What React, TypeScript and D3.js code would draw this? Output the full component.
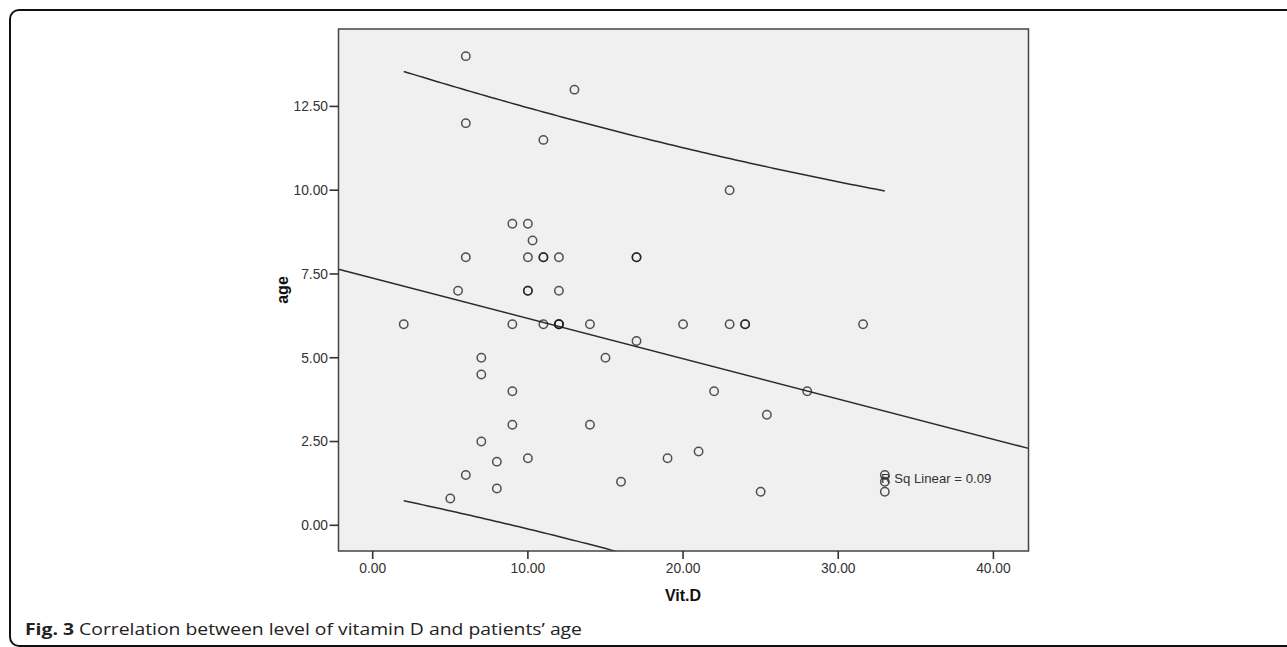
import React from "react";
import * as d3 from "d3";

// Data (Vit.D, age)
const vitD = [
  6, 13, 6, 11, 23, 9, 10, 10.3, 6, 10, 11, 11, 12, 17, 17, 5.5, 10, 10, 12, 2,
  9, 11, 12, 12, 12, 14, 20, 23, 24, 24, 31.6, 15, 7, 17, 7, 9, 22, 28, 25.4, 9,
  14, 7, 21, 19, 10, 8, 6, 16, 8, 25, 5, 33, 33, 33,
];
const age = [
  14, 13, 12, 11.5, 10, 9, 9, 8.5, 8, 8, 8, 8, 8, 8, 8, 7, 7, 7, 7, 6,
  6, 6, 6, 6, 6, 6, 6, 6, 6, 6, 6, 5, 5, 5.5, 4.5, 4, 4, 4, 3.3, 3,
  3, 2.5, 2.2, 2, 2, 1.9, 1.5, 1.3, 1.1, 1, 0.8, 1.5, 1.3, 1,
];
const xTicks = [0, 10, 20, 30, 40];
const yTicks = [0, 2.5, 5, 7.5, 10, 12.5];
const rSqLabel = "R Sq Linear = 0.09";
const captionBold = "Fig. 3";
const captionText = " Correlation between level of vitamin D and patients\u2019 age";

const W = 1287;
const H = 647;
const plot = { left: 338.5, right: 1028.5, top: 29, bottom: 551 };

export default function App() {
  const x = d3.scaleLinear().domain([-2.204, 42.26]).range([plot.left, plot.right]);
  const y = d3.scaleLinear().domain([-0.767, 14.81]).range([plot.bottom, plot.top]);

  // linear regression with 95% individual prediction interval
  const n = vitD.length;
  const mx = d3.mean(vitD) as number;
  const my = d3.mean(age) as number;
  let sxx = 0, sxy = 0;
  for (let i = 0; i < n; i++) {
    sxx += (vitD[i] - mx) ** 2;
    sxy += (vitD[i] - mx) * (age[i] - my);
  }
  const b = sxy / sxx;
  const a = my - b * mx;
  let sse = 0;
  for (let i = 0; i < n; i++) sse += (age[i] - a - b * vitD[i]) ** 2;
  const s = Math.sqrt(sse / (n - 2));
  const t = 2.0066;
  const half = (v: number) => t * s * Math.sqrt(1 + 1 / n + (v - mx) ** 2 / sxx);
  const [xmin, xmax] = d3.extent(vitD) as [number, number];
  const grid = d3.range(0, 101).map((i) => xmin + ((xmax - xmin) * i) / 100);

  const line = d3.line<[number, number]>().x((d) => x(d[0])).y((d) => y(d[1]));
  const fitPath = line([
    [x.domain()[0], a + b * x.domain()[0]],
    [x.domain()[1], a + b * x.domain()[1]],
  ]);
  const upperPath = line(grid.map((v) => [v, a + b * v + half(v)] as [number, number]));
  const lowerPath = line(grid.map((v) => [v, a + b * v - half(v)] as [number, number]));

  const axisFont = "'Liberation Sans', Arial, sans-serif";

  return (
    <svg width={W} height={H} style={{ position: "absolute", left: 0, top: 0 }}>
      <rect x={0} y={0} width={W} height={H} fill="#fff" />
      <rect x={10} y={10} width={W + 20} height={636} rx={9} fill="none" stroke="#111" strokeWidth={2} />
      <defs>
        <clipPath id="plotclip">
          <rect x={plot.left} y={plot.top} width={plot.right - plot.left} height={plot.bottom - plot.top} />
        </clipPath>
      </defs>
      <rect
        x={plot.left}
        y={plot.top}
        width={plot.right - plot.left}
        height={plot.bottom - plot.top}
        fill="#f0f0f0"
      />
      <g clipPath="url(#plotclip)" fill="none" stroke="#2a2a2a" strokeWidth={1.5}>
        <path d={fitPath || ""} />
        <path d={upperPath || ""} />
        <path d={lowerPath || ""} />
      </g>
      <g fill="none" stroke="#1a1a1a" strokeWidth={1.5} strokeOpacity={0.75}>
        {vitD.map((v, i) => (
          <circle key={i} cx={x(v)} cy={y(age[i])} r={4.2} />
        ))}
      </g>
      <text x={881} y={482.5} fontFamily={axisFont} fontSize={13.2} fill="#333">
        {rSqLabel}
      </text>
      <rect
        x={plot.left}
        y={plot.top}
        width={plot.right - plot.left}
        height={plot.bottom - plot.top}
        fill="none"
        stroke="#444"
        strokeWidth={1.5}
      />
      {/* axes */}
      <g fontFamily={axisFont} fontSize={13.8} fill="#333">
        {yTicks.map((v) => (
          <g key={v}>
            <line x1={plot.left - 9} x2={plot.left} y1={y(v)} y2={y(v)} stroke="#333" strokeWidth={1.6} />
            <text x={plot.left - 10.5} y={y(v)} dy="0.35em" textAnchor="end">
              {v.toFixed(2)}
            </text>
          </g>
        ))}
        {xTicks.map((v) => (
          <g key={v}>
            <line x1={x(v)} x2={x(v)} y1={plot.bottom} y2={plot.bottom + 8} stroke="#333" strokeWidth={1.6} />
            <text x={x(v)} y={573} textAnchor="middle">
              {v.toFixed(2)}
            </text>
          </g>
        ))}
      </g>
      <text
        transform={`translate(288,290) rotate(-90)`}
        textAnchor="middle"
        fontFamily={axisFont}
        fontWeight="bold"
        fontSize={16}
        fill="#111"
      >
        age
      </text>
      <text x={683} y={601} textAnchor="middle" fontFamily={axisFont} fontWeight="bold" fontSize={16} fill="#111">
        Vit.D
      </text>
      <text
        x={25}
        y={635}
        fontFamily="'Open Sans', 'Noto Sans', sans-serif"
        fontSize={16}
        fill="#222"
        textLength={557}
        lengthAdjust="spacingAndGlyphs"
      >
        <tspan fontWeight="bold">{captionBold}</tspan>
        <tspan>{captionText}</tspan>
      </text>
    </svg>
  );
}
